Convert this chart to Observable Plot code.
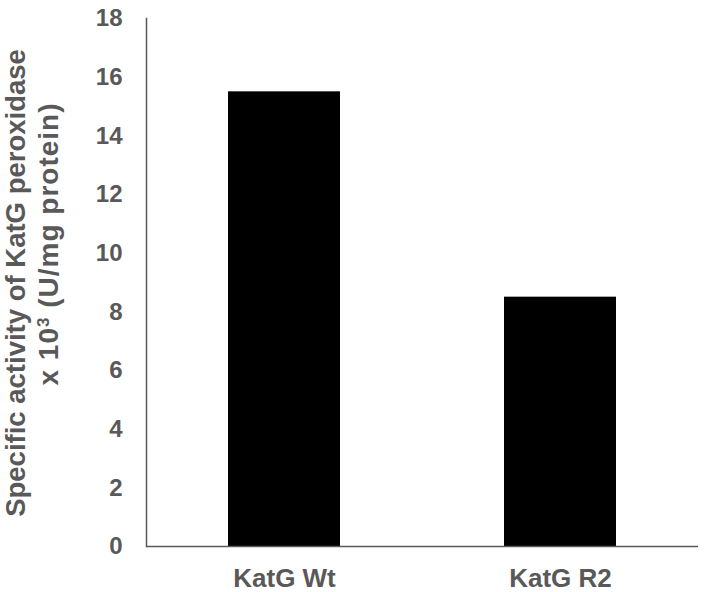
<!DOCTYPE html>
<html>
<head>
<meta charset="utf-8">
<script src="https://cdn.jsdelivr.net/npm/d3@7"></script>
<script src="https://cdn.jsdelivr.net/npm/@observablehq/plot@0.6"></script>
<style>
  html, body { margin: 0; padding: 0; background: #fff; }
  #chart { width: 709px; height: 592px; }
</style>
</head>
<body>
<div id="chart"></div>
<script>
const categories = ["KatG Wt", "KatG R2"];
const activity = [15.5, 8.5];
const yTicks = [0, 2, 4, 6, 8, 10, 12, 14, 16, 18];
const titleLine1 = "Specific activity of KatG peroxidase";
const titleLine2a = "x 10";
const titleSup = "3";
const titleLine2b = " (U/mg protein)";

const data = categories.map((c, i) => ({category: c, value: activity[i]}));
const gray = "#595959";

const chart = Plot.plot({
  width: 709,
  height: 592,
  marginLeft: 146,
  marginRight: 11,
  marginTop: 18,
  marginBottom: 46,
  style: {fontFamily: "'Liberation Sans', Arial, sans-serif", fontWeight: "bold", color: gray, background: "#fff"},
  x: {domain: categories, paddingInner: 0.594, paddingOuter: 0.297, label: null},
  y: {domain: [0, 18], label: null},
  marks: [
    Plot.barY(data, {x: "category", y: "value", fill: "black"}),
    Plot.frame({anchor: "left", stroke: gray, strokeWidth: 1.5}),
    Plot.axisY({ticks: yTicks, tickSize: 0, tickPadding: 24, fontSize: 24, label: null}),
    Plot.axisX({tickSize: 0, tickPadding: 22, fontSize: 26, label: null}),
    Plot.ruleY([0], {stroke: gray, strokeWidth: 1.5})
  ]
});
document.getElementById("chart").appendChild(chart);

const svg = d3.select(chart);
svg.append("text")
  .attr("transform", `translate(25,283) rotate(-90)`)
  .attr("text-anchor", "middle")
  .attr("font-size", 27.5)
  .attr("font-weight", "bold")
  .attr("fill", gray)
  .text(titleLine1);
const t2 = svg.append("text")
  .attr("transform", `translate(58,244) rotate(-90)`)
  .attr("text-anchor", "middle")
  .attr("font-size", 28)
  .attr("font-weight", "bold")
  .attr("letter-spacing", 1)
  .attr("fill", gray);
t2.append("tspan").text(titleLine2a);
t2.append("tspan").attr("font-size", 17).attr("dy", -9).text(titleSup);
t2.append("tspan").attr("dy", 9).text(titleLine2b);
</script>
</body>
</html>
